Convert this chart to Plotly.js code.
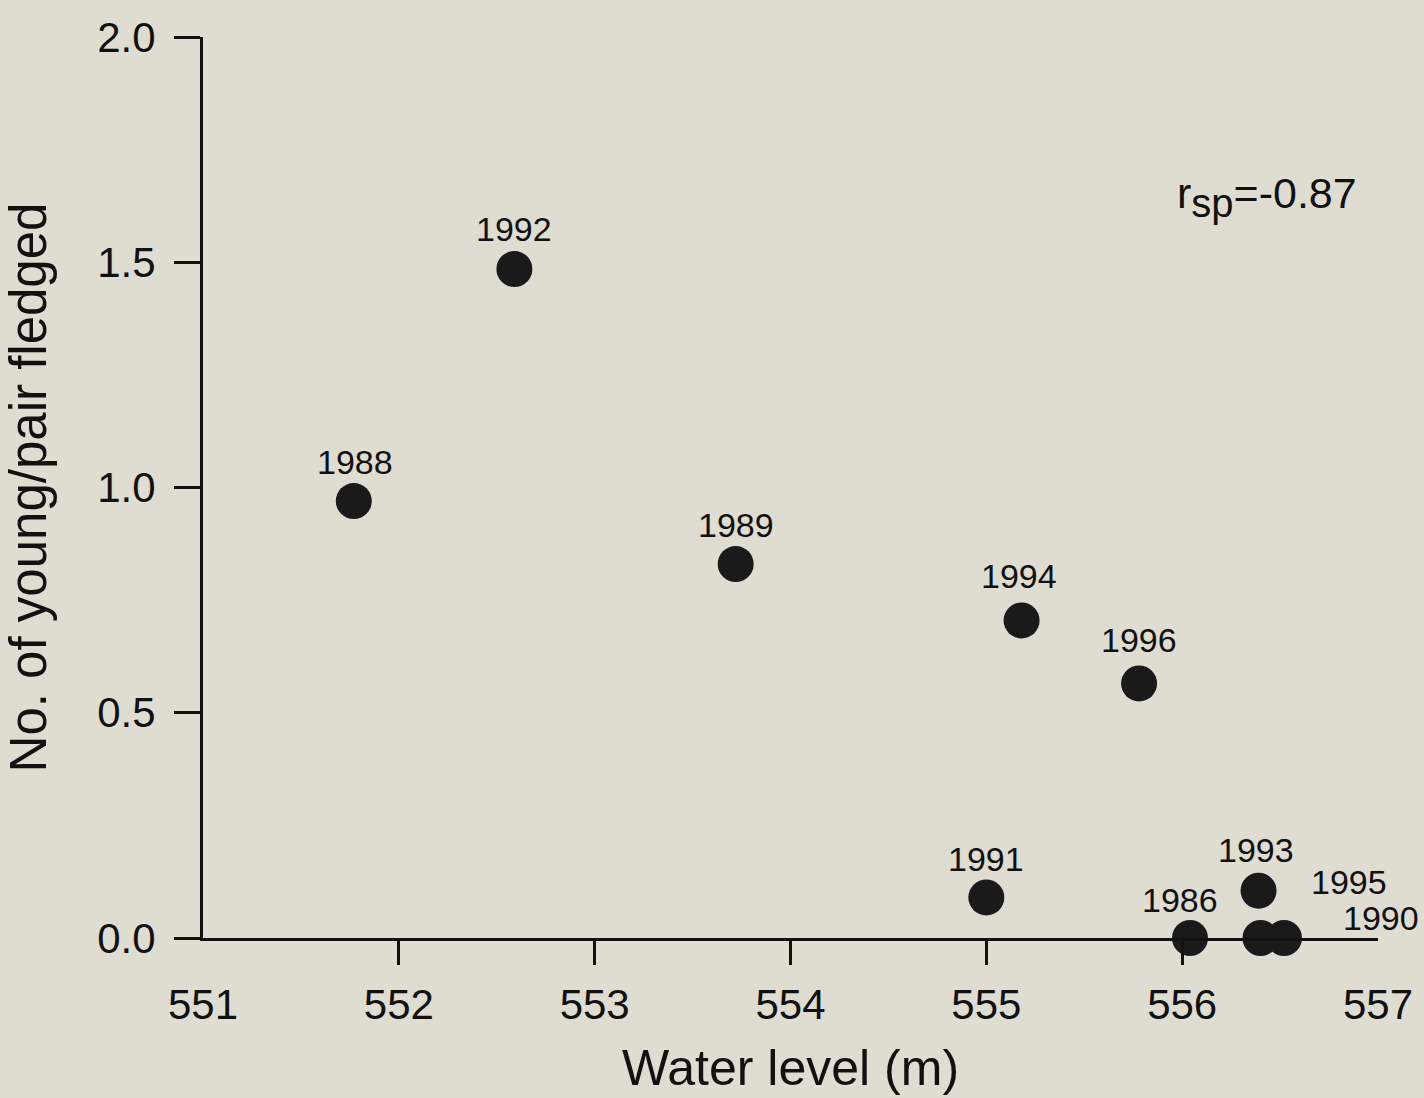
<!DOCTYPE html>
<html>
<head>
<meta charset="utf-8">
<script src="https://cdn.plot.ly/plotly-3.0.1.min.js"></script>
<style>
  html, body { margin: 0; padding: 0; background: #dfddd1; }
  #chart { width: 1424px; height: 1098px; }
</style>
</head>
<body>
<div id="chart"></div>
<script>
// Data
const years = ["1988", "1992", "1989", "1994", "1996", "1991", "1993", "1986", "1995", "1990"];
const waterLevel = [551.77, 552.59, 553.72, 555.18, 555.78, 555.0, 556.39, 556.04, 556.40, 556.52];
const youngPerPair = [0.97, 1.485, 0.83, 0.705, 0.565, 0.09, 0.105, 0.0, 0.0, 0.0];
// label offsets (pixels) relative to each point: styling only
const labelDx = [1, 0, 0, -3, 0, 0, -3, -10, 88, 97];
const labelDy = [39, 40, 39, 44, 43, 38, 41, 38, 56, 20];

const xTickVals = [551, 552, 553, 554, 555, 556, 557];
const xTickText = ["551", "552", "553", "554", "555", "556", "557"];
const yTickVals = [0, 0.5, 1.0, 1.5, 2.0];
const yTickText = ["0.0", "0.5", "1.0", "1.5", "2.0"];
const statText = "r<sub><span style='font-size:40px'>sp</span></sub>=-0.87";

const FONT = "Liberation Sans, Arial, Helvetica, sans-serif";
const INK = "#111111";
const BG = "#dfddd1";

const trace = {
  type: "scatter",
  mode: "markers",
  x: waterLevel,
  y: youngPerPair,
  text: years,
  cliponaxis: false,
  marker: { size: 36, color: "#1a1a1a", line: { width: 0 } },
  hoverinfo: "x+y+text",
  showlegend: false,
  xaxis: "x",
  yaxis: "y"
};

const annotations = years.map((yr, i) => ({
  x: waterLevel[i],
  y: youngPerPair[i],
  xref: "x",
  yref: "y",
  text: yr,
  showarrow: false,
  xanchor: "center",
  yanchor: "middle",
  xshift: labelDx[i],
  yshift: labelDy[i],
  font: { family: FONT, size: 34, color: INK }
}));

annotations.push({
  x: 0.827, y: 0.822, xref: "paper", yref: "paper",
  text: statText, showarrow: false,
  xanchor: "left", yanchor: "middle",
  font: { family: FONT, size: 43, color: INK }
});

const layout = {
  width: 1424,
  height: 1098,
  paper_bgcolor: BG,
  plot_bgcolor: BG,
  margin: { l: 203, r: 46, t: 37, b: 160, pad: 0 },
  font: { family: FONT, color: INK },
  xaxis: {
    range: [551, 557],
    showline: true,
    linecolor: INK,
    linewidth: 3,
    showgrid: false,
    zeroline: false,
    tickmode: "array",
    tickvals: [552, 553, 554, 555, 556],
    ticks: "outside",
    ticklen: 24,
    tickwidth: 3,
    tickcolor: INK,
    showticklabels: false,
    automargin: false
  },
  xaxis2: {
    overlaying: "x",
    anchor: "y",
    side: "bottom",
    range: [551, 557],
    showline: false,
    showgrid: false,
    zeroline: false,
    tickmode: "array",
    tickvals: xTickVals,
    ticktext: xTickText,
    ticks: "",
    ticklabelstandoff: 38,
    tickfont: { family: FONT, size: 42, color: INK },
    title: { text: "Water level (m)", font: { family: FONT, size: 50, color: INK }, standoff: 22 },
    automargin: false
  },
  yaxis: {
    range: [0, 2],
    showline: true,
    linecolor: INK,
    linewidth: 3,
    showgrid: false,
    zeroline: false,
    tickmode: "array",
    tickvals: yTickVals,
    ticktext: yTickText,
    ticks: "outside",
    ticklen: 26,
    tickwidth: 3,
    tickcolor: INK,
    ticklabelstandoff: 10,
    tickfont: { family: FONT, size: 42, color: INK },
    title: { text: "No. of young/pair fledged", font: { family: FONT, size: 51, color: INK }, standoff: 52 },
    automargin: false
  },
  annotations: annotations
};

// invisible helper trace so the label axis (xaxis2) is drawn
const axisTrace = {
  type: "scatter", mode: "markers", x: [551], y: [0], xaxis: "x2", yaxis: "y",
  marker: { opacity: 0 }, hoverinfo: "skip", showlegend: false
};

Plotly.newPlot("chart", [trace, axisTrace], layout, { staticPlot: true, displayModeBar: false });
</script>
</body>
</html>
